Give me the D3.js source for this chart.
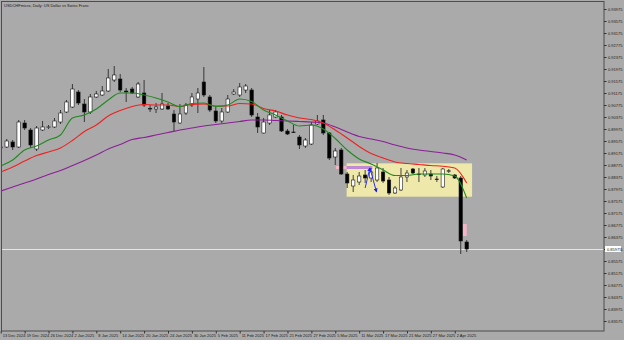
<!DOCTYPE html>
<html>
<head>
<meta charset="utf-8">
<script src="https://cdn.jsdelivr.net/npm/d3@7"></script>
<style>
  body { margin: 0; background: #aaaaaa; }
  svg { display: block; }
  text { font-family: "Liberation Sans", Arial, sans-serif; }
</style>
</head>
<body>
<svg id="chart"></svg>
<script>
// daily bars, 13 Dec 2024 .. 4 Apr 2025
var dates = ["13 Dec 2024","16 Dec 2024","17 Dec 2024","18 Dec 2024","19 Dec 2024","20 Dec 2024","23 Dec 2024","24 Dec 2024","26 Dec 2024","27 Dec 2024","30 Dec 2024","31 Dec 2024",
  "2 Jan 2025","3 Jan 2025","6 Jan 2025","7 Jan 2025","8 Jan 2025","9 Jan 2025","10 Jan 2025","13 Jan 2025","14 Jan 2025","15 Jan 2025","16 Jan 2025","17 Jan 2025","20 Jan 2025","21 Jan 2025","22 Jan 2025","23 Jan 2025","24 Jan 2025","27 Jan 2025","28 Jan 2025","29 Jan 2025","30 Jan 2025","31 Jan 2025",
  "3 Feb 2025","4 Feb 2025","5 Feb 2025","6 Feb 2025","7 Feb 2025","10 Feb 2025","11 Feb 2025","12 Feb 2025","13 Feb 2025","14 Feb 2025","17 Feb 2025","18 Feb 2025","19 Feb 2025","20 Feb 2025","21 Feb 2025","24 Feb 2025","25 Feb 2025","26 Feb 2025","27 Feb 2025","28 Feb 2025",
  "3 Mar 2025","4 Mar 2025","5 Mar 2025","6 Mar 2025","7 Mar 2025","10 Mar 2025","11 Mar 2025","12 Mar 2025","13 Mar 2025","14 Mar 2025","17 Mar 2025","18 Mar 2025","19 Mar 2025","20 Mar 2025","21 Mar 2025","24 Mar 2025","25 Mar 2025","26 Mar 2025","27 Mar 2025","28 Mar 2025","31 Mar 2025",
  "1 Apr 2025","2 Apr 2025","3 Apr 2025","4 Apr 2025"];

var opens = [0.89342,0.89375,0.89542,0.89375,0.90175,0.89942,0.89308,0.89942,0.90030,0.90042,
  0.90208,0.90542,0.90708,0.91208,0.90808,0.90542,0.91042,0.91108,0.91242,0.91608,
  0.91642,0.91242,0.91308,0.91042,0.91175,0.90660,0.90642,0.90642,0.90742,0.90475,
  0.90175,0.90508,0.90775,0.90975,0.91542,0.91042,0.90575,0.90242,0.90542,0.91142,
  0.91108,0.91275,0.91275,0.90375,0.89842,0.90175,0.90375,0.90375,0.89908,0.89875,
  0.89708,0.89408,0.89475,0.90142,0.90275,0.89842,0.89042,0.89275,0.88475,0.88075,
  0.88208,0.88442,0.88342,0.88275,0.88542,0.88275,0.87842,0.87942,0.88375,0.88642,
  0.88475,0.88442,0.88475,0.88308,0.88042,0.88575,0.88442,0.88342,0.86208];
var highs = [0.89442,0.89642,0.89608,0.90275,0.90275,0.90008,0.90075,0.90242,0.90108,0.90342,
  0.90608,0.90942,0.91475,0.91275,0.90975,0.91142,0.91242,0.91408,0.91975,0.92075,
  0.91808,0.91342,0.91375,0.91542,0.91608,0.90775,0.90842,0.91175,0.90842,0.90608,
  0.90808,0.90842,0.91175,0.91342,0.92042,0.91108,0.90708,0.90675,0.91108,0.91308,
  0.91508,0.91475,0.91342,0.90508,0.90342,0.90608,0.90608,0.90442,0.89975,0.90108,
  0.89775,0.89675,0.90208,0.90442,0.90442,0.89875,0.89342,0.89342,0.88542,0.88442,
  0.88542,0.88608,0.88675,0.88842,0.88675,0.88375,0.88075,0.88675,0.88608,0.88675,
  0.88675,0.88675,0.88608,0.88408,0.88675,0.88642,0.88475,0.88408,0.86275];
var lows = [0.89275,0.89342,0.89275,0.89342,0.89942,0.89342,0.89242,0.89908,0.89975,0.90008,
  0.90142,0.90508,0.90675,0.90775,0.90208,0.90475,0.91008,0.91075,0.91208,0.91542,
  0.91208,0.90875,0.91142,0.91008,0.90708,0.90542,0.90508,0.90608,0.90608,0.89875,
  0.90142,0.90442,0.90708,0.90508,0.91042,0.90542,0.90175,0.90175,0.90508,0.91108,
  0.91042,0.91175,0.90375,0.89842,0.89825,0.90108,0.90342,0.89875,0.89775,0.89842,
  0.89308,0.89342,0.89442,0.90108,0.89775,0.88942,0.88775,0.88442,0.88008,0.87875,
  0.88108,0.88175,0.88208,0.88208,0.88175,0.87775,0.87808,0.87908,0.88208,0.88475,
  0.88208,0.88375,0.88275,0.88208,0.88008,0.88508,0.88308,0.85808,0.85875];
var closes = [0.89375,0.89575,0.89375,0.90208,0.90008,0.89442,0.90008,0.90042,0.90045,0.90242,
  0.90508,0.90875,0.91308,0.90842,0.90542,0.91042,0.91142,0.91242,0.91675,0.91775,
  0.91275,0.91208,0.91175,0.91475,0.90775,0.90650,0.90708,0.90808,0.90642,0.90208,
  0.90475,0.90775,0.91042,0.91175,0.91108,0.90608,0.90242,0.90542,0.90975,0.91208,
  0.91375,0.91408,0.90442,0.90042,0.90208,0.90442,0.90542,0.89908,0.89808,0.89865,
  0.89442,0.89608,0.90108,0.90242,0.89842,0.89008,0.89242,0.88475,0.88175,0.88275,
  0.88408,0.88342,0.88542,0.88675,0.88242,0.87842,0.88008,0.88375,0.88508,0.88508,
  0.88465,0.88575,0.88408,0.88300,0.88642,0.88585,0.88342,0.86242,0.85975];

// moving averages read every second bar (bar 0, 2, 4 ...)
var maFast = [0.88742,0.88942,0.89275,0.89408,0.89608,0.89775,0.90342,0.90442,0.90642,0.90942,
  0.91175,0.91175,0.91108,0.91008,0.90875,0.90725,0.90825,0.90842,0.90725,0.90775,
  0.90975,0.90892,0.90608,0.90442,0.90242,0.90075,0.90108,0.89975,0.89658,0.89275,
  0.88975,0.88808,0.88608,0.88425,0.88425,0.88475,0.88475,0.88475,0.88408,0.87675];
var maMid = [0.88542,0.88708,0.88908,0.89092,0.89208,0.89342,0.89592,0.89892,0.90108,0.90408,
  0.90592,0.90725,0.90792,0.90775,0.90775,0.90725,0.90792,0.90808,0.90742,0.90742,
  0.90825,0.90808,0.90658,0.90575,0.90442,0.90342,0.90292,0.90175,0.89942,0.89675,
  0.89392,0.89158,0.89008,0.88875,0.88825,0.88792,0.88758,0.88732,0.88675,0.88175];
var maSlow = [0.87908,0.88042,0.88175,0.88308,0.88458,0.88592,0.88758,0.88925,0.89108,0.89308,
  0.89458,0.89625,0.89692,0.89775,0.89858,0.89942,0.90008,0.90075,0.90125,0.90175,
  0.90225,0.90275,0.90275,0.90258,0.90242,0.90225,0.90208,0.90175,0.90042,0.89875,
  0.89725,0.89642,0.89558,0.89442,0.89342,0.89275,0.89225,0.89175,0.89108,0.88942];

var priceTicks = [0.93975,0.93575,0.93175,0.92775,0.92375,0.91975,0.91575,0.91175,0.90775,
  0.90375,0.89975,0.89575,0.89175,0.88775,0.88375,0.87975,0.87575,0.87175,0.86775,
  0.86375,0.85975,0.85575,0.85175,0.84775,0.84375,0.83975,0.83575];

// drawn objects: [bar from, bar to, price top, price bottom]
var zoneBox = [57.9, 78.9, 0.88830, 0.87718];
var pinkBar = [56.1, 57.9, 0.88742, 0.88642];
var violetBar = [57.9, 62.2, 0.88742, 0.88642];
var pinkBox = [77.35, 78.0, 0.86808, 0.86408];
var zigBars = [61.0, 61.8, 62.9];
var zigPrices = [0.88010, 0.88675, 0.87880];

var W = 624, H = 340,
    plotRight = 604, plotBottom = 331;

var svg = d3.select("#chart").attr("width", W).attr("height", H);

svg.append("rect").attr("width", W).attr("height", H).attr("fill", "#aaaaaa");

var x = d3.scaleLinear().domain([0, dates.length - 1]).range([0.73, 466.7]);
var y = d3.scaleLinear().domain([0.83575, 0.93975]).range([321, 9]);

svg.append("clipPath").attr("id", "plotclip")
  .append("rect").attr("x", 2).attr("y", 2).attr("width", plotRight - 2).attr("height", plotBottom - 2);

var plot = svg.append("g").attr("clip-path", "url(#plotclip)");

function box(b) {
  return {x: x(b[0]), y: y(b[2]), w: x(b[1]) - x(b[0]), h: y(b[3]) - y(b[2])};
}

// rectangle objects
[[zoneBox, "#eee8aa"], [pinkBar, "#f4b6c6"], [violetBar, "#c08ad4"], [pinkBox, "#f4b6c6"]].forEach(function(o) {
  var r = box(o[0]);
  plot.append("rect").attr("x", r.x).attr("y", r.y).attr("width", r.w).attr("height", r.h)
    .attr("fill", o[1]);
});

// current price line
var last = closes[closes.length - 1];
plot.append("line")
  .attr("x1", 2).attr("x2", plotRight)
  .attr("y1", Math.round(y(last)) + 0.5).attr("y2", Math.round(y(last)) + 0.5)
  .attr("stroke", "#e6e6e6").attr("stroke-width", 1);

// candles
var bodyW = 3.4;
var bars = d3.range(dates.length);
var candle = plot.append("g").selectAll("g").data(bars).enter().append("g");

candle.append("line")
  .attr("x1", function(i) { return x(i); })
  .attr("x2", function(i) { return x(i); })
  .attr("y1", function(i) { return y(highs[i]); })
  .attr("y2", function(i) { return y(lows[i]); })
  .attr("stroke", "#1a1a1a").attr("stroke-width", 0.8);

candle.append("rect")
  .attr("x", function(i) { return x(i) - bodyW / 2; })
  .attr("y", function(i) { return y(Math.max(opens[i], closes[i])); })
  .attr("width", bodyW)
  .attr("height", function(i) { return Math.max(0.6, Math.abs(y(opens[i]) - y(closes[i]))); })
  .attr("fill", function(i) { return closes[i] >= opens[i] ? "#ffffff" : "#000000"; })
  .attr("stroke", "#1a1a1a").attr("stroke-width", 0.6);

// moving averages
var maLine = d3.line()
  .x(function(d, k) { return x(k * 2); })
  .y(function(d) { return y(d); })
  .curve(d3.curveMonotoneX);

[[maSlow, "#8c1f98"], [maMid, "#f02020"], [maFast, "#1f8a1f"]].forEach(function(m) {
  plot.append("path").datum(m[0])
    .attr("d", maLine)
    .attr("fill", "none")
    .attr("stroke", m[1])
    .attr("stroke-width", 1.1);
});

// blue zigzag with arrow heads
svg.append("defs").append("marker")
  .attr("id", "arrow").attr("viewBox", "0 0 6 6")
  .attr("refX", 5).attr("refY", 3)
  .attr("markerWidth", 4).attr("markerHeight", 4)
  .attr("markerUnits", "userSpaceOnUse")
  .attr("orient", "auto")
  .append("path").attr("d", "M0,0L6,3L0,6z").attr("fill", "#1a1aff");

for (var s = 0; s < zigBars.length - 1; s++) {
  plot.append("line")
    .attr("x1", x(zigBars[s])).attr("y1", y(zigPrices[s]))
    .attr("x2", x(zigBars[s + 1])).attr("y2", y(zigPrices[s + 1]))
    .attr("stroke", "#1a1aff").attr("stroke-width", 0.9)
    .attr("marker-end", "url(#arrow)");
}

// frame
svg.append("rect")
  .attr("x", 1.5).attr("y", 1.5)
  .attr("width", plotRight - 1.5).attr("height", plotBottom - 1.5)
  .attr("fill", "none").attr("stroke", "#4d4d4d").attr("stroke-width", 1);

// price axis
var yAxis = svg.append("g")
  .attr("transform", "translate(" + plotRight + ",0)")
  .call(d3.axisRight(y).tickValues(priceTicks).tickSize(2.5).tickPadding(1.5).tickFormat(d3.format(".5f")));
yAxis.select(".domain").remove();
yAxis.selectAll("line").attr("stroke", "#333");
yAxis.selectAll("text").attr("font-size", 4).attr("fill", "#1a1a1a")
  .attr("font-family", "Liberation Sans, Arial, sans-serif");

// current price tag
svg.append("rect")
  .attr("x", plotRight + 1).attr("y", y(last) - 3)
  .attr("width", 16).attr("height", 6)
  .attr("fill", "#ffffff");
svg.append("text")
  .attr("x", plotRight + 3).attr("y", y(last) + 1.5)
  .attr("font-size", 4).attr("fill", "#1a1a1a")
  .text(d3.format(".5f")(last));

// time axis
var labelBars = bars.filter(function(i) { return i % 4 === 0; });
var xAxis = svg.append("g")
  .attr("transform", "translate(0," + plotBottom + ")")
  .call(d3.axisBottom(x).tickValues(labelBars).tickSize(2.5).tickPadding(1)
    .tickFormat(function(i) { return dates[i]; }));
xAxis.select(".domain").remove();
xAxis.selectAll("line").attr("stroke", "#333");
xAxis.selectAll("text").attr("font-size", 4).attr("fill", "#1a1a1a")
  .attr("text-anchor", "start").attr("dx", 1.5)
  .attr("font-family", "Liberation Sans, Arial, sans-serif");

// title
svg.append("text")
  .attr("x", 4).attr("y", 6.5)
  .attr("font-size", 4).attr("fill", "#1a1a1a")
  .text("USDCHFmicro, Daily: US Dollar vs Swiss Franc");
</script>
</body>
</html>
